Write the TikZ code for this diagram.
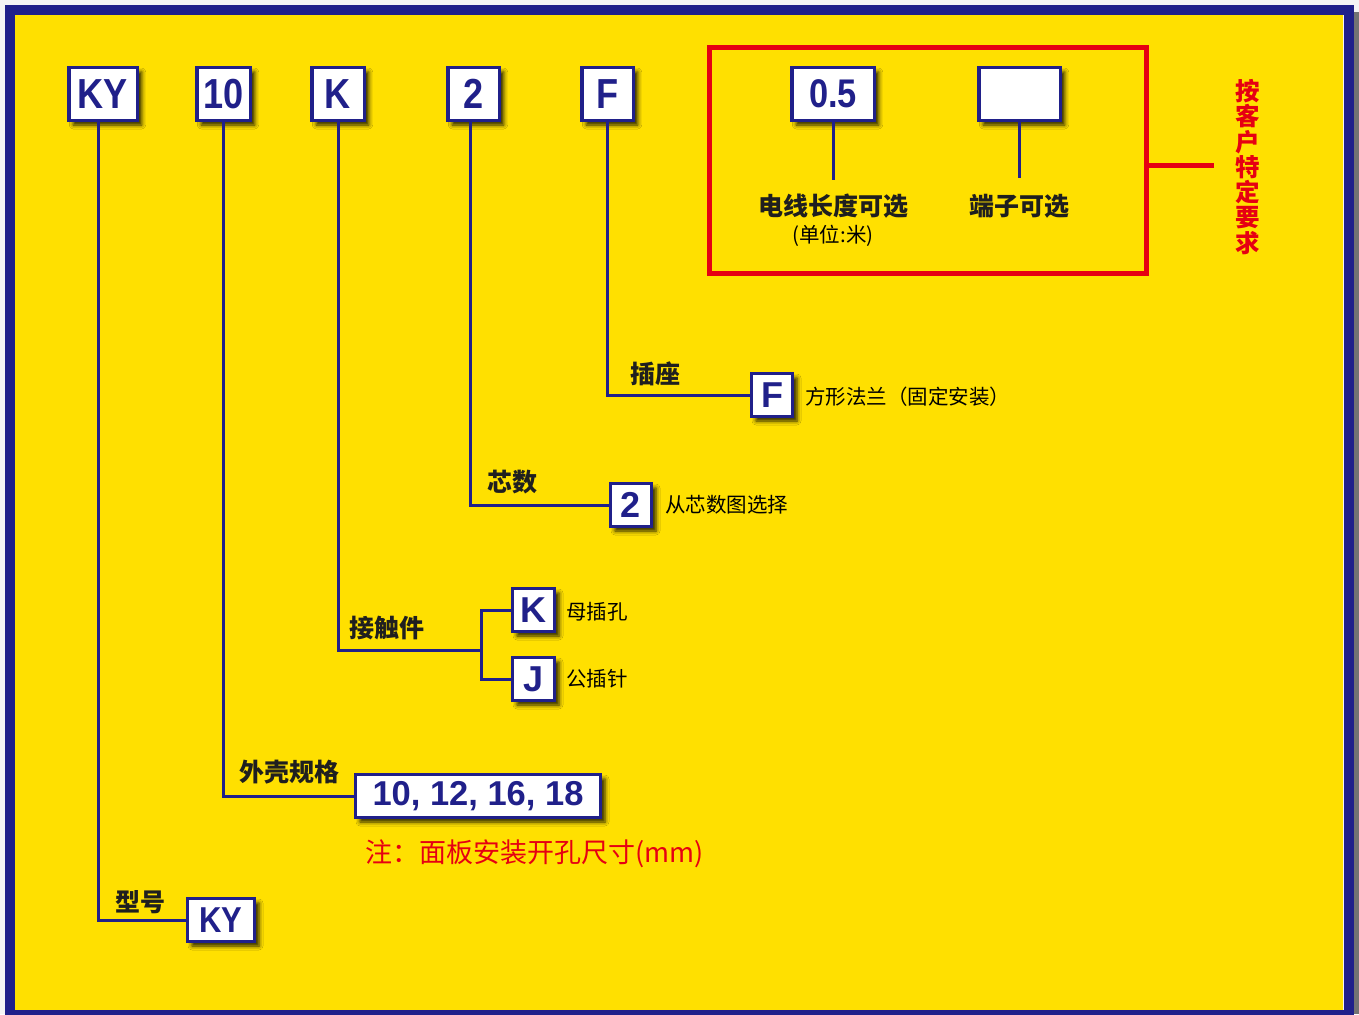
\documentclass[tikz,border=0pt]{standalone}
\usepackage{fontspec}
\setmainfont{Liberation Sans}
\newfontfamily\cjk{Noto Sans CJK SC}
\usetikzlibrary{shadows.blur}
\definecolor{ybg}{RGB}{255,224,0}
\definecolor{navy}{RGB}{32,32,138}
\definecolor{rd}{RGB}{230,0,18}
\newcommand\fsz[1]{\fontsize{#1}{#1}\selectfont}
\newcommand\nb[1]{\scalebox{0.86}[1]{#1}}
\begin{document}
\begin{tikzpicture}[x=1pt,y=-1pt,
  box/.style={draw=navy, line width=3.5pt, fill=white, inner sep=0pt, text=navy,
    blur shadow={shadow xshift=4.5pt, shadow yshift=-4.5pt, shadow blur radius=4pt, shadow opacity=85}},
  topbox/.style={box, minimum height=53pt, font={\bfseries\fsz{42}}},
  botbox/.style={box, minimum height=43pt, font={\bfseries\fsz{36}}},
  conn/.style={draw=navy, line width=3pt},
  connsh/.style={draw=black, opacity=0.4, line width=3pt, shift={(2.5,2.5)}, shorten <=3pt, shorten >=3pt},
  lab/.style={font={\cjk\bfseries\fsz{25}}, text=black!88, inner sep=0pt},
  desc/.style={font={\cjk\fsz{20.5}}, text=black, anchor=west, inner sep=0pt}]
\useasboundingbox (0,0) rectangle (1359,1014);
% frame
\fill[black!4] (0,0) rectangle (1359,1014);
\fill[black!55] (1350,12) rectangle (1359,1014);
\fill[ybg] (15,15) rectangle (1343,1010);
\draw[navy, line width=10pt] (10,10) rectangle (1348.5,1015);

% top boxes
\node[topbox, minimum width=68.5pt] (tKY) at (103,94) {\nb{KY}};
\node[topbox, minimum width=53.5pt] (t10) at (223.5,94) {\nb{10}};
\node[topbox, minimum width=52.5pt] (tK) at (338,94) {\nb{K}};
\node[topbox, minimum width=51.5pt] (t2) at (473.5,94) {\nb{2}};
\node[topbox, minimum width=51.5pt] (tF) at (607.5,94) {\nb{F}};
\node[topbox, minimum width=82.5pt, font={\bfseries\fsz{40}}] (t05) at (833,94) {\nb{0.5}};
\node[topbox, minimum width=81.5pt] (tE) at (1019.5,94) {};

% bottom boxes
\node[botbox, minimum width=41pt] (bF) at (772,395) {F};
\node[botbox, minimum width=41pt] (b2) at (631,505) {2};
\node[botbox, minimum width=42pt] (bK) at (533.5,610) {K};
\node[botbox, minimum width=42pt] (bJ) at (533.5,679) {J};
\node[botbox, minimum width=245pt, font={\bfseries\fsz{34.5}}] (b10) at (478,796) {10, 12, 16, 18};
\node[botbox, minimum width=67pt, font={\bfseries\fsz{36}}] (bKY) at (221,920) {\nb{KY}};

\coordinate (kbr) at (481,650);
\coordinate (e05) at (833,180);
\coordinate (eE) at (1019.5,178);

% connectors (shadow then line)
\foreach \s in {connsh,conn}{
  \draw[\s] ([xshift=-5pt]tKY.south) |- (bKY.west);
  \draw[\s] (t10.south) |- (b10.west);
  \draw[\s] (tK.south) |- (kbr);
  \draw[\s] (bK.west) -| (kbr) |- (bJ.west);
  \draw[\s] ([xshift=-3pt]t2.south) |- (b2.west);
  \draw[\s] (tF.south) |- (bF.west);
  \draw[\s] (t05.south) -- (e05);
  \draw[\s] (tE.south) -- (eE);
}

% labels
\node[lab] (l1) at (655,374) {插座};
\node[lab] (l2) at (512,482) {芯数};
\node[lab] (l3) at (387,628) {接触件};
\node[lab] (l4) at (289,772) {外壳规格};
\node[lab] (l5) at (140,902) {型号};
\node[lab] (l6) at (833,206) {电线长度可选};
\node[lab] (l7) at (1019.5,206) {端子可选};
\node[font={\cjk\fsz{20.5}}, inner sep=0pt] (l8) at (833,236) {(单位:米)};

\node[desc] (d1) at (805,397) {方形法兰（固定安装）};
\node[desc] (d2) at (665,505) {从芯数图选择};
\node[desc] (d3) at (566,612) {母插孔};
\node[desc] (d4) at (566,679) {公插针};
\node[desc, font={\cjk\fsz{27}}, text=rd] (note) at (365,854) {注：面板安装开孔尺寸(mm)};

% red custom box
\node[draw=rd, line width=5pt, minimum width=437pt, minimum height=225pt, inner sep=0pt] (redbox) at (927.5,160.5) {};
\coordinate (rend) at (1214,165);
\draw[rd, line width=5pt] (redbox.east |- rend) -- (rend);
\node[text=rd, font={\cjk\bfseries\fontsize{24.5}{25.3}\selectfont}, align=center, inner sep=0pt] (vt) at (1248,167) {按\\客\\户\\特\\定\\要\\求};
\end{tikzpicture}
\end{document}
